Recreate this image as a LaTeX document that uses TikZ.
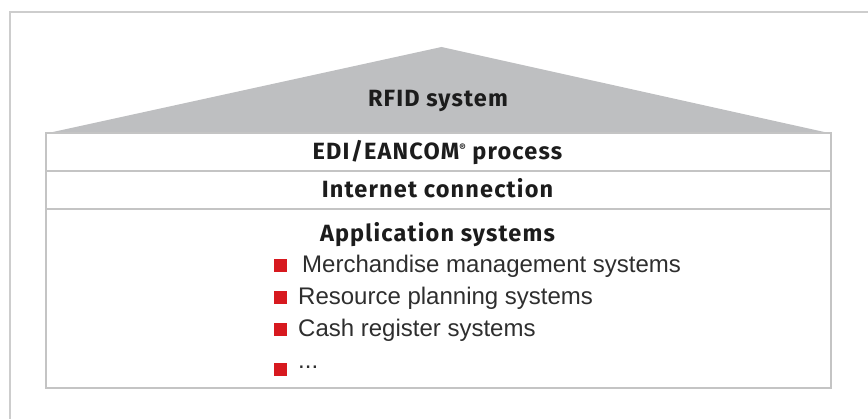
\documentclass[tikz,border=0pt]{standalone}
\usepackage{fontspec}
\setmainfont{Liberation Sans}
\newfontfamily\headfont{Fira Sans}[LetterSpace=5]
\definecolor{framegray}{HTML}{CDCDCD}
\definecolor{linegray}{HTML}{C4C4C4}
\definecolor{roofgray}{HTML}{BEBFC1}
\definecolor{bulletred}{HTML}{D7191F}
\definecolor{headtext}{HTML}{1C1C1C}
\definecolor{itemtext}{HTML}{2E2E2E}
\tikzset{
  heading/.style={anchor=base, inner sep=0pt, text=headtext,
    font=\headfont\bfseries\fontsize{23.5}{27}\selectfont},
  item/.style={anchor=base west, inner sep=0pt, text=itemtext,
    font=\fontsize{24}{28}\selectfont},
  bullet/.style={fill=bulletred, draw=none},
  divider/.style={draw=linegray, line width=2pt},
}
\begin{document}
\begin{tikzpicture}[x=1pt,y=-1pt]
  \useasboundingbox (0,0) rectangle (868,419);
  % open outer frame (top and left edges)
  \draw[framegray, line width=2pt] (9.5,419) -- (9.5,12.5) -- (868,12.5);
  % roof
  \fill[roofgray] (46,133.5) -- (441.5,47) -- (831,133.5) -- cycle;
  % house body and its floors
  \draw[divider] (46,133.5) rectangle (831,388.5);
  \draw[divider] (46,171.5) -- (831,171.5);
  \draw[divider] (46,209.5) -- (831,209.5);
  % layer labels
  \node[heading] (rfid) at (438,107) {RFID system};
  \node[heading] (edi) at (437.5,160) {EDI/EANCOM{\fontsize{10}{10}\selectfont\raisebox{8pt}{®}} process};
  \node[heading] (inet) at (437.5,198) {Internet connection};
  \node[heading] (apps) at (437.5,242) {Application systems};
  % list of application systems
  \fill[bullet] (274,259.5) rectangle (287,272.5);
  \fill[bullet] (274,291) rectangle (287,304);
  \fill[bullet] (274,323.5) rectangle (287,336.5);
  \fill[bullet] (274,363.5) rectangle (287,376.5);
  \node[item] (i1) at (302,273) {Merchandise management systems};
  \node[item] (i2) at (298,305) {Resource planning systems};
  \node[item] (i3) at (298,337) {Cash register systems};
  \node[item] (i4) at (298,369) {...};
\end{tikzpicture}
\end{document}
